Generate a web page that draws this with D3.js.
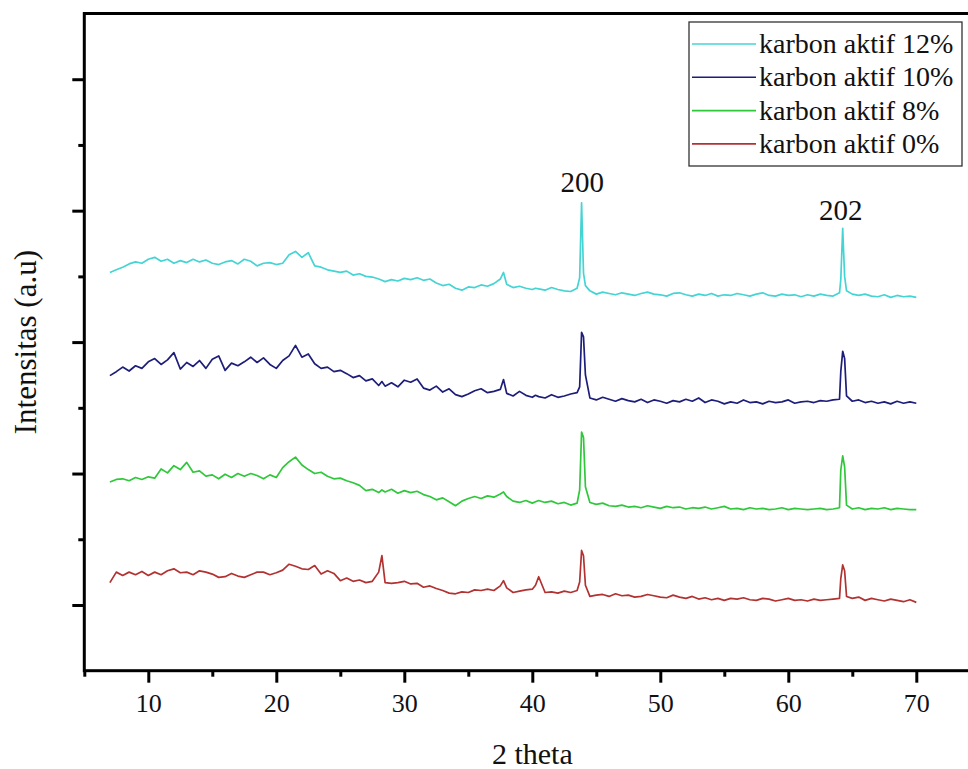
<!DOCTYPE html>
<html>
<head>
<meta charset="utf-8">
<script src="https://cdn.jsdelivr.net/npm/d3@7"></script>
<style>
  html, body { margin: 0; padding: 0; background: #fff; }
  svg { display: block; }
  svg text { font-family: "Liberation Serif", "Times New Roman", "DejaVu Serif", serif !important; fill: #111; }
</style>
</head>
<body>
<svg id="chart" width="968" height="769"></svg>
<script>
// ---- data ----
const twoTheta = [7,7.5,8,8.5,9,9.5,10,10.5,11,11.5,12,12.5,13,13.5,14,14.5,15,15.5,16,16.5,17,17.5,18,18.5,19,19.5,20,20.5,21,21.5,22,22.5,23,23.5,24,24.5,25,25.5,26,26.5,27,27.5,28,28.25,28.5,29,29.5,30,30.5,31,31.5,32,32.5,33,33.5,34,34.5,35,35.5,36,36.5,37,37.5,37.75,38,38.5,39,39.5,40,40.25,40.5,41,41.5,42,42.5,43,43.5,43.7,43.85,44,44.15,44.5,45,45.5,46,46.5,47,47.5,48,48.5,49,49.5,50,50.5,51,51.5,52,52.5,53,53.5,54,54.5,55,55.5,56,56.5,57,57.5,58,58.5,59,59.5,60,60.5,61,61.5,62,62.5,63,63.5,64,64.1,64.25,64.4,64.55,65,65.5,66,66.5,67,67.5,68,68.5,69,69.5,70];

const karbon12 = [60.6,61.0,61.4,61.9,62.2,62.0,62.6,62.9,62.3,62.6,62.0,62.4,62.1,62.6,62.2,62.5,62.0,61.8,62.2,62.4,61.9,62.6,62.3,61.6,62.0,62.1,61.8,62.0,63.3,63.8,62.9,63.6,61.6,61.4,61.0,60.8,60.6,60.8,60.2,60.4,60.0,59.9,59.6,59.4,59.2,59.5,59.3,59.7,59.5,59.8,59.4,59.6,59.0,58.6,58.8,58.2,57.9,58.4,58.3,58.7,58.5,58.9,59.6,60.6,58.8,58.3,58.5,58.2,58.0,58.2,58.1,57.9,58.3,58.0,57.8,57.7,58.2,59.8,71.2,60.5,58.6,57.8,57.3,57.6,57.4,57.2,57.5,57.3,57.1,57.4,57.6,57.3,57.2,57.0,57.4,57.5,57.2,57.0,57.3,57.1,57.4,57.0,57.2,57.1,57.4,57.2,57.0,57.3,57.5,57.1,57.0,57.3,57.1,57.2,56.9,57.2,57.0,57.3,57.1,57.0,57.5,59.5,67.3,60.0,57.8,57.3,57.1,57.3,57.0,56.9,57.2,56.8,57.1,56.9,57.0,56.8];

const karbon10 = [44.9,45.5,46.2,45.6,46.4,46.0,47.0,47.5,46.6,47.3,48.4,45.9,46.9,46.3,47.2,46.0,47.4,47.9,45.7,46.8,46.4,47.0,47.7,46.9,47.6,46.6,46.0,47.2,47.9,49.5,47.7,48.2,46.7,46.0,46.2,45.5,45.7,45.2,44.6,44.9,44.1,44.4,43.4,44.0,43.3,43.8,43.2,44.2,43.9,44.4,43.0,42.7,43.3,42.4,42.9,42.0,41.7,42.1,42.6,42.9,42.3,42.5,42.8,44.3,42.2,41.8,42.5,41.9,41.6,41.9,41.7,41.5,42.0,41.6,41.8,42.1,42.3,43.2,51.5,50.8,45.0,41.5,41.2,41.6,41.3,41.0,41.4,41.1,40.9,41.3,40.8,41.2,41.0,40.7,41.1,40.9,41.3,41.0,41.5,40.8,41.2,41.0,40.6,40.9,40.7,41.2,40.8,40.9,40.6,41.0,40.8,40.9,41.2,40.7,40.9,41.0,40.8,41.1,41.0,41.2,41.3,45.5,48.6,47.5,41.8,41.0,41.2,40.8,41.0,40.7,40.9,40.6,41.0,40.7,40.9,40.7];

const karbon8 = [28.7,29.1,29.2,28.9,29.4,29.1,29.5,29.3,30.7,30.1,31.2,30.6,31.7,30.2,30.4,29.6,29.8,29.2,29.9,29.4,30.0,29.6,30.0,29.7,29.2,29.8,29.4,30.9,31.8,32.5,31.3,30.6,30.0,30.2,29.6,29.2,29.3,28.9,28.6,28.2,27.4,27.6,27.1,27.5,27.2,27.6,27.0,27.4,27.1,27.3,26.8,26.5,26.0,26.3,25.7,25.1,25.8,26.2,26.5,26.2,26.6,26.4,26.9,27.2,26.5,25.8,25.6,25.9,25.5,25.7,25.9,25.6,25.8,25.4,25.6,25.2,25.5,27.5,36.3,35.5,28.0,25.6,25.3,25.5,25.1,25.0,25.2,24.9,25.0,24.8,25.1,24.9,24.7,25.0,24.8,24.9,24.6,24.8,24.7,24.9,24.6,24.8,25.0,24.6,24.7,24.5,24.8,24.6,24.7,24.5,24.6,24.8,24.5,24.7,24.6,24.5,24.6,24.7,24.5,24.6,24.8,30.5,32.7,31.0,25.2,24.6,24.8,24.5,24.7,24.6,24.8,24.5,24.7,24.6,24.5,24.5];

const karbon0 = [13.4,15.0,14.5,15.0,14.6,15.1,14.5,15.0,14.6,15.2,15.5,14.9,15.0,14.6,15.2,15.0,14.7,14.2,14.3,14.8,14.4,14.2,14.6,15.0,15.0,14.6,14.9,15.3,16.2,15.9,15.5,15.4,16.0,14.7,15.2,14.8,13.7,14.1,13.6,13.8,13.4,13.6,15.0,17.5,13.4,13.3,13.4,13.6,13.2,13.3,12.7,12.9,12.5,12.2,11.8,11.7,12.0,11.9,12.3,12.2,12.4,12.2,12.9,13.7,12.6,11.9,12.1,12.3,12.4,13.0,14.3,11.9,12.0,11.8,12.1,11.9,12.2,13.5,18.3,17.5,13.0,11.3,11.5,11.6,11.3,11.7,11.4,11.5,11.2,11.3,11.6,11.4,11.2,11.1,11.5,11.2,11.0,11.3,10.9,11.1,10.8,11.0,10.7,11.0,10.9,11.1,10.8,10.7,11.0,10.9,10.6,10.8,11.0,10.7,10.8,10.6,10.9,10.7,10.8,10.9,11.0,14.0,16.1,15.2,11.3,11.0,11.2,10.7,11.0,10.8,10.6,10.9,10.7,10.5,10.8,10.4];

const seriesNames = ["karbon aktif 12%", "karbon aktif 10%", "karbon aktif 8%", "karbon aktif 0%"];
const seriesValues = [karbon12, karbon10, karbon8, karbon0];
const seriesColors = ["#45d4d4", "#1d1d7a", "#2fc83a", "#b23232"];

const xMajorTicks = [10, 20, 30, 40, 50, 60, 70];
const xMinorTicks = [5, 15, 25, 35, 45, 55, 65, 75];
const yMajorTicks = [10, 30, 50, 70, 90];
const yMinorTicks = [20, 40, 60, 80];

const peakLabels = ["200", "202"];
const peakPositions = [43.9, 64.1];
const peakLabelHeights = [72.9, 68.6];

// ---- layout ----
const FONT = '"Liberation Serif", "Times New Roman", serif';
const svg = d3.select("#chart");
const plotLeft = 84.3, plotRight = 980.3, plotTop = 13.5, plotBottom = 670.7;

const x = d3.scaleLinear().domain([5, 75]).range([plotLeft, plotRight]);
const y = d3.scaleLinear().domain([0, 100]).range([plotBottom, plotTop]);

svg.append("defs").append("clipPath").attr("id", "plotclip")
  .append("rect").attr("x", plotLeft).attr("y", plotTop)
  .attr("width", plotRight - plotLeft).attr("height", plotBottom - plotTop);

// data lines
const line = d3.line().x(d => x(d[0])).y(d => y(d[1]));
const plot = svg.append("g").attr("clip-path", "url(#plotclip)");
seriesValues.forEach((vals, i) => {
  const pts = twoTheta.map((t, j) => [t, vals[j]]);
  plot.append("path")
    .datum(pts)
    .attr("d", line)
    .attr("fill", "none")
    .attr("stroke", seriesColors[i])
    .attr("stroke-width", 1.7)
    .attr("stroke-linejoin", "round");
});

// frame
svg.append("rect")
  .attr("x", plotLeft).attr("y", plotTop)
  .attr("width", plotRight - plotLeft).attr("height", plotBottom - plotTop)
  .attr("fill", "none").attr("stroke", "#000").attr("stroke-width", 3);

// x axis
const xMajor = svg.append("g").attr("transform", `translate(0,${plotBottom})`)
  .call(d3.axisBottom(x).tickValues(xMajorTicks).tickSize(12).tickPadding(11).tickFormat(d3.format("d")));
const xMinor = svg.append("g").attr("transform", `translate(0,${plotBottom})`)
  .call(d3.axisBottom(x).tickValues(xMinorTicks).tickSize(6).tickFormat(""));
// y axis
const yMajor = svg.append("g").attr("transform", `translate(${plotLeft},0)`)
  .call(d3.axisLeft(y).tickValues(yMajorTicks).tickSize(12).tickFormat(""));
const yMinor = svg.append("g").attr("transform", `translate(${plotLeft},0)`)
  .call(d3.axisLeft(y).tickValues(yMinorTicks).tickSize(6).tickFormat(""));

[xMajor, xMinor, yMajor, yMinor].forEach(g => {
  g.attr("font-family", FONT);
  g.select(".domain").remove();
  g.selectAll(".tick line").attr("stroke", "#000").attr("stroke-width", 3);
});
xMajor.selectAll(".tick text")
  .attr("font-family", FONT)
  .style("font-size", "26px").attr("fill", "#111");

// axis titles
svg.append("text")
  .attr("x", (plotLeft + plotRight) / 2).attr("y", 764)
  .attr("text-anchor", "middle").attr("font-family", FONT).style("font-size", "30px")
  .text("2 theta");

svg.append("text")
  .attr("transform", `translate(36,${(plotTop + plotBottom) / 2}) rotate(-90)`)
  .attr("text-anchor", "middle").attr("font-family", FONT).style("font-size", "31px")
  .text("Intensitas (a.u)");

// peak labels
peakLabels.forEach((lab, i) => {
  svg.append("text")
    .attr("x", x(peakPositions[i])).attr("y", y(peakLabelHeights[i]))
    .attr("text-anchor", "middle").attr("font-family", FONT).style("font-size", "29px")
    .text(lab);
});

// legend
const lg = svg.append("g");
lg.append("rect").attr("x", 689).attr("y", 22).attr("width", 273).attr("height", 144)
  .attr("fill", "#fff").attr("stroke", "#333").attr("stroke-width", 1.3);
seriesNames.forEach((name, i) => {
  const cy = 44 + i * 33.3;
  lg.append("line").attr("x1", 692).attr("x2", 756).attr("y1", cy).attr("y2", cy)
    .attr("stroke", seriesColors[i]).attr("stroke-width", 1.6);
  lg.append("text").attr("x", 759).attr("y", cy + 9)
    .attr("font-family", FONT).style("font-size", "28px").text(name);
});
</script>
</body>
</html>
